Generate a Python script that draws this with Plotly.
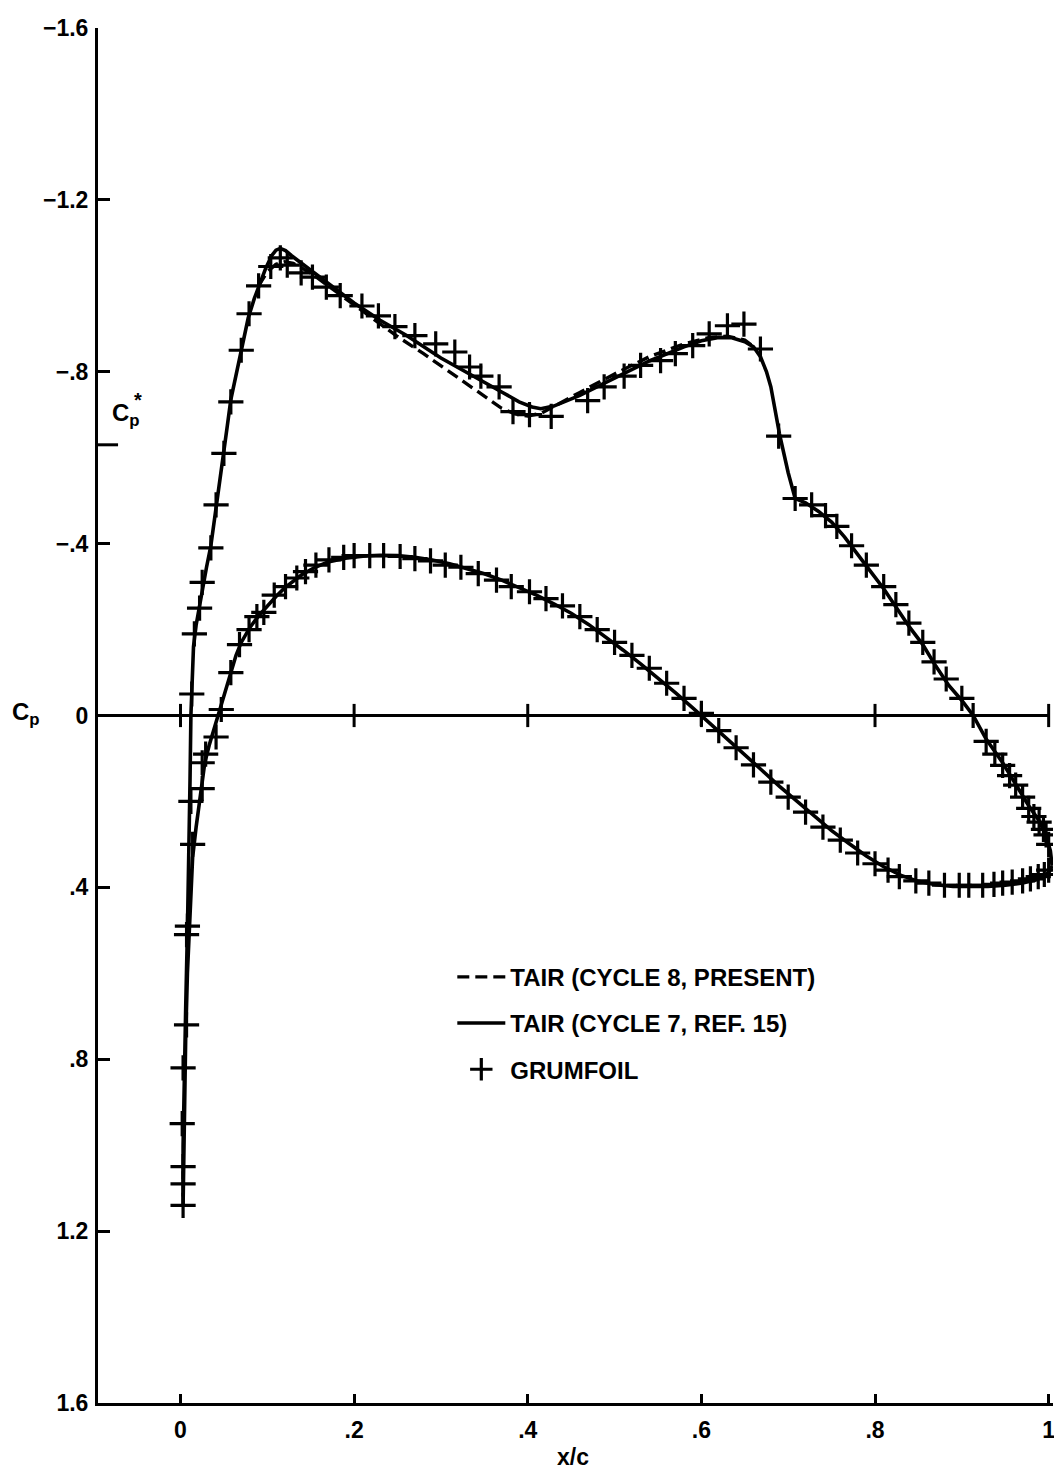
import plotly.graph_objects as go

# ---------------- data ----------------
# TAIR cycle 7 (solid) - upper surface, leading edge -> trailing edge
upper_x = [0.003, 0.003, 0.004, 0.006, 0.008, 0.010, 0.011, 0.012, 0.013, 0.015, 0.018, 0.022, 0.026, 0.030,
           0.035, 0.041, 0.046, 0.050, 0.054, 0.058, 0.064, 0.070, 0.078, 0.085, 0.091, 0.098, 0.105, 0.110,
           0.115, 0.121, 0.128, 0.14, 0.16, 0.18, 0.20, 0.23, 0.26, 0.30, 0.34, 0.37, 0.39, 0.405, 0.415,
           0.43, 0.46, 0.50, 0.54, 0.58, 0.60, 0.62, 0.635, 0.65, 0.66, 0.668, 0.675, 0.68, 0.69, 0.70,
           0.708, 0.72, 0.735, 0.75, 0.765, 0.78, 0.795, 0.81, 0.825, 0.84, 0.855, 0.87, 0.885, 0.90,
           0.913, 0.928, 0.947, 0.962, 0.977, 0.989, 0.997, 1.002, 1.004]
upper_cp = [1.14, 1.0, 0.85, 0.68, 0.5, 0.32, 0.15, 0.0, -0.08, -0.16, -0.21, -0.255, -0.30, -0.345,
            -0.395, -0.49, -0.555, -0.615, -0.675, -0.735, -0.795, -0.85, -0.925, -0.97, -1.005, -1.04,
            -1.07, -1.083, -1.087, -1.082, -1.07, -1.05, -1.02, -0.99, -0.96, -0.92, -0.885, -0.832,
            -0.787, -0.753, -0.73, -0.718, -0.714, -0.72, -0.745, -0.785, -0.825, -0.858, -0.872, -0.88,
            -0.879, -0.87, -0.858, -0.835, -0.80, -0.765, -0.655, -0.565, -0.505, -0.495, -0.475, -0.45,
            -0.415, -0.375, -0.335, -0.295, -0.25, -0.205, -0.165, -0.115, -0.07, -0.035, 0.0, 0.055,
            0.11, 0.16, 0.21, 0.245, 0.28, 0.315, 0.35]

# TAIR cycle 7 (solid) - lower surface, leading edge -> trailing edge
lower_x = [0.003, 0.004, 0.006, 0.008, 0.011, 0.014, 0.018, 0.022, 0.025, 0.028, 0.033, 0.038, 0.043,
           0.048, 0.053, 0.058, 0.064, 0.07, 0.08, 0.09, 0.10, 0.11, 0.12, 0.13, 0.14, 0.155, 0.17, 0.19,
           0.21, 0.23, 0.25, 0.27, 0.29, 0.31, 0.33, 0.35, 0.37, 0.39, 0.41, 0.43, 0.45, 0.47, 0.49, 0.51,
           0.53, 0.55, 0.57, 0.59, 0.61, 0.63, 0.65, 0.67, 0.69, 0.71, 0.73, 0.75, 0.77, 0.79, 0.81, 0.83,
           0.85, 0.87, 0.89, 0.91, 0.93, 0.95, 0.97, 0.985, 0.995, 1.001, 1.004]
lower_cp = [1.14, 0.95, 0.75, 0.6, 0.45, 0.33, 0.26, 0.2, 0.15, 0.11, 0.07, 0.035, 0.0, -0.035, -0.07,
            -0.10, -0.14, -0.17, -0.205, -0.232, -0.255, -0.277, -0.297, -0.313, -0.328, -0.345, -0.357,
            -0.366, -0.371, -0.373, -0.372, -0.368, -0.362, -0.353, -0.342, -0.33, -0.315, -0.298, -0.28,
            -0.26, -0.238, -0.212, -0.183, -0.152, -0.12, -0.087, -0.053, -0.018, 0.018, 0.055, 0.092,
            0.128, 0.165, 0.2, 0.235, 0.268, 0.298, 0.327, 0.352, 0.372, 0.386, 0.394, 0.398, 0.399, 0.398,
            0.395, 0.39, 0.383, 0.374, 0.363, 0.35]

# TAIR cycle 8 (dashed) - upper surface where it departs from cycle 7
dash_x = [0.09, 0.10, 0.11, 0.12, 0.13, 0.15, 0.17, 0.19, 0.21, 0.23, 0.25, 0.28, 0.31, 0.34, 0.37, 0.385,
          0.40, 0.415, 0.43, 0.46, 0.50, 0.54, 0.58, 0.61, 0.63, 0.65, 0.66]
dash_cp = [-1.0, -1.033, -1.05, -1.056, -1.052, -1.03, -1.0, -0.97, -0.94, -0.91, -0.882, -0.842, -0.80,
           -0.757, -0.715, -0.702, -0.697, -0.703, -0.72, -0.752, -0.795, -0.835, -0.865, -0.88, -0.883,
           -0.874, -0.858]

# GRUMFOIL (+ symbols)
grum_upper_x = [0.003, 0.003, 0.003, 0.002, 0.003, 0.007, 0.007, 0.008, 0.014, 0.012, 0.013, 0.016, 0.022,
                0.025, 0.035, 0.041, 0.050, 0.058, 0.070, 0.079, 0.090, 0.104, 0.115, 0.123, 0.139, 0.152,
                0.168, 0.184, 0.209, 0.228, 0.247, 0.27, 0.294, 0.316, 0.333, 0.346, 0.367, 0.383, 0.402,
                0.427, 0.469, 0.488, 0.511, 0.53, 0.553, 0.57, 0.59, 0.609, 0.63, 0.649, 0.668, 0.689,
                0.708, 0.727, 0.743, 0.756, 0.773, 0.79, 0.81, 0.824, 0.839, 0.855, 0.868, 0.882, 0.90,
                0.913, 0.928, 0.938, 0.947, 0.955, 0.962, 0.97, 0.977, 0.983, 0.989, 0.994, 0.997, 1.0]
grum_upper_cp = [1.14, 1.09, 1.05, 0.95, 0.82, 0.72, 0.51, 0.49, 0.30, 0.20, -0.05, -0.19, -0.25, -0.31,
                 -0.39, -0.49, -0.61, -0.73, -0.85, -0.935, -1.0, -1.045, -1.065, -1.048, -1.03, -1.02,
                 -0.997, -0.977, -0.953, -0.93, -0.905, -0.884, -0.865, -0.846, -0.811, -0.79, -0.765,
                 -0.707, -0.70, -0.696, -0.733, -0.765, -0.79, -0.815, -0.826, -0.842, -0.861, -0.888,
                 -0.907, -0.911, -0.853, -0.65, -0.505, -0.49, -0.465, -0.44, -0.395, -0.35, -0.30, -0.258,
                 -0.215, -0.17, -0.125, -0.085, -0.04, 0.0, 0.06, 0.09, 0.116, 0.14, 0.162, 0.19, 0.216,
                 0.235, 0.248, 0.265, 0.278, 0.30]
grum_lower_x = [0.025, 0.025, 0.029, 0.041, 0.047, 0.058, 0.068, 0.079, 0.088, 0.096, 0.108, 0.121, 0.134,
                0.144, 0.156, 0.171, 0.188, 0.20, 0.218, 0.234, 0.253, 0.27, 0.288, 0.305, 0.323, 0.343,
                0.364, 0.381, 0.402, 0.421, 0.44, 0.46, 0.48, 0.50, 0.52, 0.54, 0.56, 0.58, 0.60, 0.62,
                0.64, 0.66, 0.68, 0.70, 0.72, 0.74, 0.76, 0.78, 0.80, 0.815, 0.828, 0.847, 0.862, 0.88,
                0.897, 0.908, 0.924, 0.937, 0.947, 0.958, 0.97, 0.979, 0.988, 0.995, 1.0]
grum_lower_cp = [0.17, 0.11, 0.09, 0.05, -0.014, -0.10, -0.165, -0.20, -0.23, -0.24, -0.28, -0.30, -0.32,
                 -0.335, -0.35, -0.362, -0.368, -0.372, -0.372, -0.372, -0.37, -0.365, -0.36, -0.35, -0.345,
                 -0.33, -0.315, -0.30, -0.288, -0.272, -0.255, -0.23, -0.20, -0.17, -0.14, -0.11, -0.075,
                 -0.04, -0.005, 0.035, 0.075, 0.115, 0.155, 0.19, 0.225, 0.26, 0.29, 0.32, 0.345, 0.36,
                 0.375, 0.385, 0.39, 0.395, 0.395, 0.395, 0.395, 0.393, 0.39, 0.388, 0.385, 0.38, 0.375,
                 0.37, 0.36]

x_tick_vals = [0, 0.2, 0.4, 0.6, 0.8, 1.0]
x_tick_text = ["0", ".2", ".4", ".6", ".8", "1"]
y_tick_vals = [-1.6, -1.2, -0.8, -0.4, 0, 0.4, 0.8, 1.2, 1.6]
y_tick_text = ["\u22121.6", "\u22121.2", "\u2212.8", "\u2212.4", "0", ".4", ".8", "1.2", "1.6"]
cp_star = -0.63

names = ["TAIR (CYCLE 8, PRESENT)", "TAIR (CYCLE 7, REF. 15)", "GRUMFOIL"]

# ---------------- figure ----------------
FONT = "Liberation Sans"
BLACK = "#000000"

solid_x = upper_x[::-1] + lower_x
solid_cp = upper_cp[::-1] + lower_cp

fig = go.Figure()
fig.add_trace(go.Scatter(x=solid_x, y=solid_cp, mode="lines", name=names[1],
                         line=dict(color=BLACK, width=3.6), legendrank=2, legendgroup="b"))
fig.add_trace(go.Scatter(x=dash_x, y=dash_cp, mode="lines", name=names[0],
                         line=dict(color=BLACK, width=3.4, dash="12px,6px"), legendrank=1, legendgroup="a"))
fig.add_trace(go.Scatter(x=grum_upper_x + grum_lower_x, y=grum_upper_cp + grum_lower_cp, mode="markers",
                         name=names[2], legendrank=3, legendgroup="c",
                         marker=dict(symbol="cross-thin", size=18, color=BLACK,
                                     line=dict(color=BLACK, width=3.2))))

XMIN, XMAX = -0.095, 1.005
shapes = []
# zero line with crossing ticks
shapes.append(dict(type="line", xref="paper", x0=0, x1=(1.0 - XMIN) / (XMAX - XMIN), yref="y", y0=0, y1=0,
                   line=dict(color=BLACK, width=3)))
for xv in x_tick_vals:
    shapes.append(dict(type="line", xref="x", x0=xv, x1=xv, yref="y", y0=-0.027, y1=0.027,
                       line=dict(color=BLACK, width=3)))
# Cp* marker tick
shapes.append(dict(type="line", xref="paper", x0=0, x1=0.021, yref="y", y0=cp_star, y1=cp_star,
                   line=dict(color=BLACK, width=3)))
fig.update_layout(shapes=shapes)

lab = dict(family=FONT, size=24, color=BLACK, weight="bold")
ann = [
    dict(text="C<sub>p</sub>", xref="paper", x=0.013, yref="y", y=-0.70, xanchor="left", yanchor="middle",
         showarrow=False, font=lab),
    dict(text="*", xref="paper", x=0.036, yref="y", y=-0.735, xanchor="left", yanchor="middle",
         showarrow=False, font=dict(family=FONT, size=20, color=BLACK, weight="bold")),
    dict(text="C<sub>p</sub>", xref="paper", x=-0.092, yref="y", y=-0.005, xanchor="left", yanchor="middle",
         showarrow=False, font=lab),
    dict(text="x/c", xref="x", x=0.452, yref="paper", y=-0.039, xanchor="center", yanchor="middle",
         showarrow=False, font=dict(family=FONT, size=23, color=BLACK, weight="bold")),
]
fig.update_layout(annotations=ann)

fig.update_layout(
    width=1054, height=1464,
    margin=dict(l=90, r=7, t=14, b=69),
    paper_bgcolor="white", plot_bgcolor="white",
    font=dict(family=FONT, color=BLACK, size=23, weight="bold"),
    showlegend=True,
    legend=dict(x=0.371, y=0.326, xanchor="left", yanchor="top", bgcolor="rgba(0,0,0,0)",
                font=dict(family=FONT, size=24, color=BLACK, weight="bold"),
                tracegroupgap=12, itemwidth=48),
    xaxis=dict(range=[XMIN, XMAX], showgrid=False, zeroline=False, showline=True, linecolor=BLACK,
               linewidth=3, ticks="inside", ticklen=9, tickwidth=3, tickcolor=BLACK,
               tickvals=x_tick_vals, ticktext=x_tick_text, ticklabelstandoff=4,
               tickfont=dict(family=FONT, size=23, color=BLACK, weight="bold")),
    yaxis=dict(range=[1.6, -1.6], showgrid=False, zeroline=False, showline=True, linecolor=BLACK,
               linewidth=3, ticks="inside", ticklen=12, tickwidth=3, tickcolor=BLACK,
               tickvals=y_tick_vals, ticktext=y_tick_text, ticklabelstandoff=2,
               tickfont=dict(family=FONT, size=23, color=BLACK, weight="bold")),
)

fig.write_html("out.html")
